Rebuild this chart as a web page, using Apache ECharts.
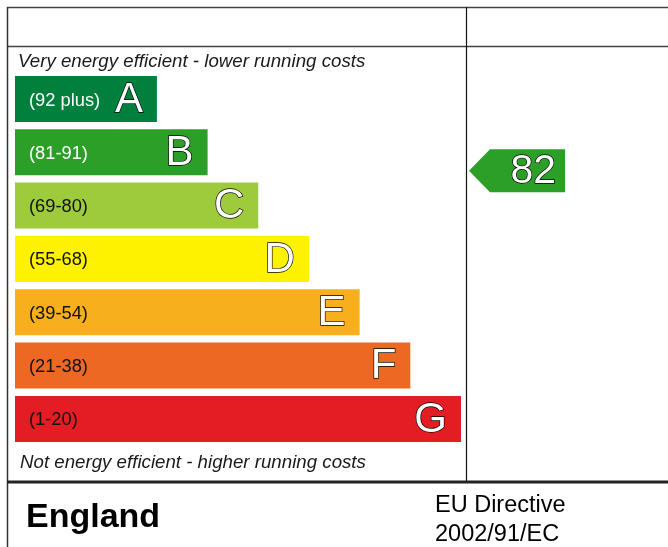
<!DOCTYPE html>
<html>
<head>
<meta charset="utf-8">
<script src="https://cdn.jsdelivr.net/npm/echarts@6/dist/echarts.min.js"></script>
<style>html,body{margin:0;padding:0;background:#fff}#c{width:668px;height:547px}</style>
</head>
<body>
<div id="c"></div>
<script>
// ---- data ----
var bandLetters = ['A', 'B', 'C', 'D', 'E', 'F', 'G'];
var bandRanges = ['(92 plus)', '(81-91)', '(69-80)', '(55-68)', '(39-54)', '(21-38)', '(1-20)'];
var bandTop = [100, 91, 80, 68, 54, 38, 20];
var bandBottom = [92, 81, 69, 55, 39, 21, 1];
var barLength = [2.8, 3.8, 4.8, 5.8, 6.8, 7.8, 8.8];
var bandColors = ['#007f3d', '#2c9f29', '#9dcb3c', '#fff200', '#f7af1d', '#ed6823', '#e31d23'];
var rangeTextColors = ['#ffffff', '#ffffff', '#111111', '#111111', '#111111', '#111111', '#111111'];
var currentScore = [82];

var FONT = '"Liberation Sans", Arial, sans-serif';
var GRID_TOP = 72.3, GRID_H = 373.3, BAR_W = 46;
var cellH = GRID_H / 7;
var barFrac = (BAR_W / cellH);

function scoreToPos(s) {
  for (var i = 0; i < bandTop.length; i++) {
    if (s >= bandBottom[i]) {
      var t = (bandTop[i] - s) / (bandTop[i] - bandBottom[i]);
      if (i === 0) t = 0.5;
      return i + (1 - barFrac) / 2 + t * barFrac;
    }
  }
  return 6.5;
}

var chart = echarts.init(document.getElementById('c'), null, { renderer: 'canvas' });

var barData = barLength.map(function (v, i) {
  return { value: v, itemStyle: { color: bandColors[i] },
    label: { color: rangeTextColors[i] } };
});

var option = {
  animation: false,
  grid: [
    { left: 15, top: GRID_TOP, width: 446, height: GRID_H, containLabel: false },
    { left: 466, top: GRID_TOP, right: 0, height: GRID_H, containLabel: false }
  ],
  xAxis: [
    { gridIndex: 0, type: 'value', min: 0, max: 8.8, show: false },
    { gridIndex: 1, type: 'value', min: 0, max: 1, show: false }
  ],
  yAxis: [
    { gridIndex: 0, type: 'category', data: bandLetters, inverse: true, show: false },
    { gridIndex: 1, type: 'value', min: 0, max: 7, inverse: true, show: false }
  ],
  series: [
    {
      type: 'bar', xAxisIndex: 0, yAxisIndex: 0, barWidth: BAR_W,
      data: barData,
      label: {
        show: true, position: 'insideLeft', distance: 14, offset: [0, 1.5],
        formatter: function (p) { return bandRanges[p.dataIndex]; },
        fontFamily: FONT, fontSize: 18.3
      }
    },
    {
      type: 'bar', xAxisIndex: 0, yAxisIndex: 0, barWidth: BAR_W, barGap: '-100%',
      data: barLength,
      itemStyle: { color: 'rgba(0,0,0,0)' },
      label: {
        show: true, position: 'insideRight', distance: 14, offset: [0, 1],
        formatter: function (p) { return bandLetters[p.dataIndex]; },
        fontFamily: FONT, fontSize: 42, color: '#ffffff',
        textBorderColor: '#000000', textBorderWidth: 1.3
      },
      z: 3
    },
    {
      type: 'custom', xAxisIndex: 1, yAxisIndex: 1,
      data: currentScore.map(function (s) { return [0, scoreToPos(s), s]; }),
      renderItem: function (params, api) {
        var p = api.coord([api.value(0), api.value(1)]);
        var x = p[0], y = p[1], h = 43;
        return {
          type: 'group',
          children: [
            { type: 'polygon', shape: { points: [
                [x + 3, y], [x + 24, y - h / 2], [x + 99, y - h / 2],
                [x + 99, y + h / 2], [x + 24, y + h / 2]] },
              style: { fill: bandColors[1] } },
            { type: 'text', style: { text: String(api.value(2)), x: x + 90, y: y + 1,
                align: 'right', verticalAlign: 'middle', font: '41px ' + FONT,
                fill: '#ffffff', stroke: '#000000', lineWidth: 1.3 } }
          ]
        };
      }
    }
  ],
  graphic: [
    { type: 'line', shape: { x1: 7, y1: 7.5, x2: 668, y2: 7.5 }, style: { stroke: '#444', lineWidth: 1.5 } },
    { type: 'line', shape: { x1: 7, y1: 46.5, x2: 668, y2: 46.5 }, style: { stroke: '#444', lineWidth: 1.5 } },
    { type: 'line', shape: { x1: 7.5, y1: 7, x2: 7.5, y2: 547 }, style: { stroke: '#333', lineWidth: 1.5 } },
    { type: 'line', shape: { x1: 466.5, y1: 7, x2: 466.5, y2: 482 }, style: { stroke: '#111', lineWidth: 1.2 } },
    { type: 'line', shape: { x1: 7, y1: 482, x2: 668, y2: 482 }, style: { stroke: '#222', lineWidth: 3 } },
    { type: 'text', style: { text: 'Very energy efficient - lower running costs', x: 18, y: 62,
        verticalAlign: 'middle', font: 'italic 18.7px ' + FONT, fill: '#1a1a1a' } },
    { type: 'text', style: { text: 'Not energy efficient - higher running costs', x: 20, y: 463,
        verticalAlign: 'middle', font: 'italic 18.7px ' + FONT, fill: '#1a1a1a' } },
    { type: 'text', style: { text: 'England', x: 26, y: 518,
        verticalAlign: 'middle', font: 'bold 34px ' + FONT, fill: '#000' } },
    { type: 'text', style: { text: 'EU Directive', x: 435, y: 506,
        verticalAlign: 'middle', font: '23.5px ' + FONT, fill: '#000' } },
    { type: 'text', style: { text: '2002/91/EC', x: 435, y: 535,
        verticalAlign: 'middle', font: '23.5px ' + FONT, fill: '#000' } }
  ]
};
chart.setOption(option);
</script>
</body>
</html>
